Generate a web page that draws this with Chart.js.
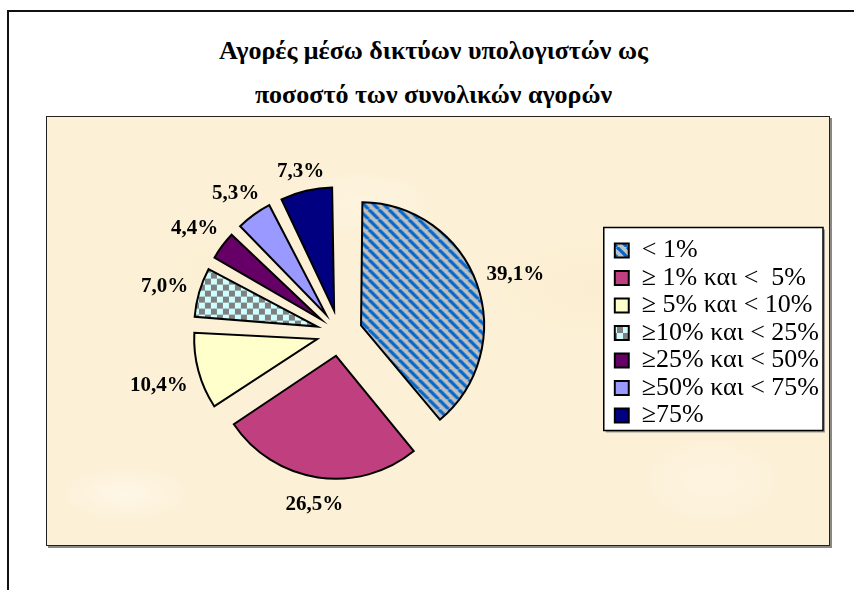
<!DOCTYPE html>
<html>
<head>
<meta charset="utf-8">
<script src="https://cdn.jsdelivr.net/npm/chart.js@4.4.1/dist/chart.umd.min.js"></script>
<style>
  html, body { margin: 0; padding: 0; background: #fff; width: 854px; height: 590px; overflow: hidden; }
  #frame { position: absolute; left: 7px; top: 10px; width: 900px; height: 700px;
           border-left: 2px solid #111; border-top: 2px solid #111; }
  #title { position: absolute; left: 12px; width: 843px; top: 29px; text-align: center;
           font-family: "Liberation Serif", "Times New Roman", serif; font-weight: bold;
           font-size: 26px; line-height: 44px; color: #000; }
  #plot { position: absolute; left: 46px; top: 116px; width: 782px; height: 428px;
          border: 1px solid #222; box-shadow: 2px 2px 0 #888;
          background-color: #fcf0d6;
          background-image:
            radial-gradient(ellipse 70px 30px at 10% 88%, rgba(255,249,238,0.7), transparent),
            radial-gradient(ellipse 90px 40px at 40% 20%, rgba(255,247,232,0.5), transparent),
            radial-gradient(ellipse 80px 50px at 85% 85%, rgba(255,248,236,0.5), transparent),
            radial-gradient(ellipse 120px 60px at 70% 40%, rgba(250,233,202,0.4), transparent),
            radial-gradient(ellipse 100px 40px at 25% 35%, rgba(250,235,206,0.4), transparent); }
  canvas { display: block; }
</style>
</head>
<body>
<div id="frame"></div>
<div id="title">Αγορές μέσω δικτύων υπολογιστών ως<br>ποσοστό των συνολικών αγορών</div>
<div id="plot"><canvas id="pie" width="782" height="428"></canvas></div>

<script>
// -------- DATA --------
const categories = [
  "< 1%",
  "≥ 1% και <  5%",
  "≥ 5% και < 10%",
  "≥10% και < 25%",
  "≥25% και < 50%",
  "≥50% και < 75%",
  "≥75%"
];
const shares = [39.1, 26.5, 10.4, 7.0, 4.4, 5.3, 7.3];

// -------- LOOK --------
const PIE_RADIUS = 123;
const EXPLODE = 23;   // px each slice is pulled out
const serif = '"Liberation Serif", "Times New Roman", serif';

function stripePattern() {
  const c = document.createElement("canvas");
  c.width = 10; c.height = 10;
  const g = c.getContext("2d");
  g.fillStyle = "#c0c0c0";
  g.fillRect(0, 0, 10, 10);
  g.strokeStyle = "#0066cc";
  g.lineWidth = 3.2;
  [-10, 0, 10].forEach((k) => {
    g.beginPath();
    g.moveTo(k, 0);
    g.lineTo(k + 10, 10);
    g.stroke();
  });
  return g.createPattern(c, "repeat");
}

function checkerPattern() {
  const c = document.createElement("canvas");
  c.width = 12; c.height = 12;
  const g = c.getContext("2d");
  g.fillStyle = "#ccffff";
  g.fillRect(0, 0, 12, 12);
  g.fillStyle = "#808080";
  g.fillRect(0, 0, 6, 6);
  g.fillRect(6, 6, 6, 6);
  return g.createPattern(c, "repeat");
}

const sliceColors = [
  stripePattern(),
  "#bf3f7f",
  "#ffffcc",
  checkerPattern(),
  "#660066",
  "#9999ff",
  "#000080"
];

function fmt(v) {
  return v.toFixed(1).replace(".", ",") + "%";
}

// chart.js pushes the outer radius of offset slices out a bit, pull it back
const keepRadius = {
  id: "keepRadius",
  afterDatasetsUpdate(chart) {
    chart.getDatasetMeta(0).data.forEach((arc) => {
      const fix = 1 - Math.sin(Math.min(Math.PI, arc.circumference));
      arc.outerRadius = PIE_RADIUS - EXPLODE * fix;
    });
  }
};

// white box + frame behind the legend
const legendFrame = {
  id: "legendFrame",
  beforeDraw(chart) {
    const boxes = chart.legend && chart.legend.legendHitBoxes;
    if (!boxes || !boxes.length) return;
    const left = Math.min(...boxes.map((b) => b.left)) - 11;
    const top = Math.min(...boxes.map((b) => b.top)) - 10;
    const right = Math.max(...boxes.map((b) => b.left + b.width)) + 4;
    const bottom = Math.max(...boxes.map((b) => b.top + b.height)) + 2;
    const ctx = chart.ctx;
    ctx.save();
    ctx.fillStyle = "#999";
    ctx.fillRect(left + 2, top + 2, right - left, bottom - top);
    ctx.fillStyle = "#fff";
    ctx.fillRect(left, top, right - left, bottom - top);
    ctx.strokeStyle = "#000";
    ctx.lineWidth = 1.5;
    ctx.strokeRect(left, top, right - left, bottom - top);
    ctx.restore();
  }
};

// percentage labels outside each slice
const pieLabels = {
  id: "pieLabels",
  afterDatasetsDraw(chart) {
    const ctx = chart.ctx;
    const meta = chart.getDatasetMeta(0);
    ctx.save();
    ctx.font = "bold 21px " + serif;
    ctx.fillStyle = "#000";
    ctx.textAlign = "center";
    ctx.textBaseline = "middle";
    meta.data.forEach((arc, i) => {
      const mid = (arc.startAngle + arc.endAngle) / 2;
      const dx = Math.cos(mid);
      const dy = Math.sin(mid);
      const txt = fmt(shares[i]);
      const w = ctx.measureText(txt).width;
      const push = PIE_RADIUS + EXPLODE + 11 + Math.abs(dx) * w / 2 + Math.abs(dy) * 8;
      ctx.fillText(txt, arc.x + dx * push, arc.y + dy * push + 4);
    });
    ctx.restore();
  }
};

Chart.defaults.font.family = serif;
Chart.defaults.color = "#000";

const chart = new Chart(document.getElementById("pie"), {
  type: "pie",
  data: {
    labels: categories,
    datasets: [{
      data: shares,
      backgroundColor: sliceColors,
      borderColor: "#000",
      borderWidth: 2,
      borderJoinStyle: "miter",
      offset: EXPLODE * 4,
      radius: PIE_RADIUS
    }]
  },
  options: {
    responsive: false,
    animation: false,
    events: [],
    layout: { padding: { left: 18.5, right: 0, top: 4, bottom: 0 } },
    plugins: {
      title: { display: false },
      tooltip: { enabled: false },
      legend: {
        position: "right",
        labels: {
          font: { size: 26, family: serif },
          color: "#000",
          boxWidth: 14,
          boxHeight: 14,
          padding: 1.5
        }
      }
    }
  },
  plugins: [keepRadius, legendFrame, pieLabels]
});
</script>
</body>
</html>
